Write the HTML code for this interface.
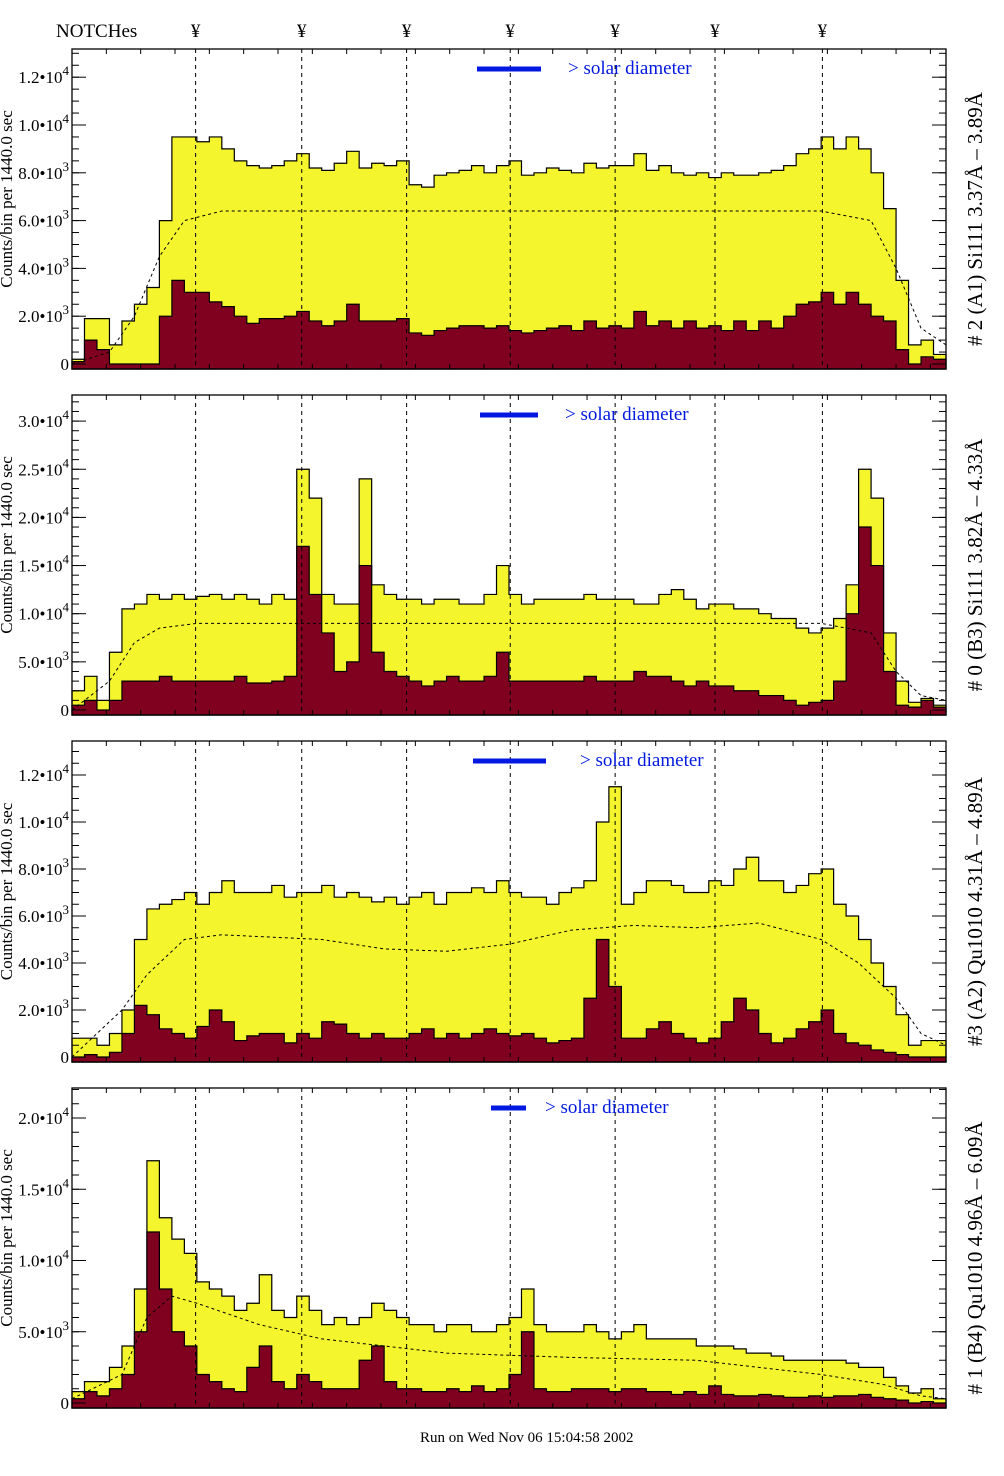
<!DOCTYPE html>
<html><head><meta charset="utf-8"><style>
html,body{margin:0;padding:0;background:#fff;}
svg{display:block;font-family:"Liberation Serif",serif;}
</style></head><body>
<svg id="chart" width="1004" height="1476" viewBox="0 0 1004 1476" xmlns="http://www.w3.org/2000/svg">
<text x="56" y="37" font-size="19">NOTCHes</text>
<g id="notchLabels"></g>
<g id="panels"></g>
<text x="420" y="1442" font-size="15">Run on Wed Nov 06 15:04:58 2002</text>
</svg>
<script>
// ---- data (values in thousands of counts) ----
const notchBins = [9.9, 18.4, 26.8, 35.1, 43.5, 51.5, 60.1];
const p1Total = [0.2,1.9,1.9,0.8,1.8,2.5,3.2,6.0,9.5,9.5,9.3,9.5,9.0,8.5,8.3,8.2,8.3,8.5,8.8,8.2,8.1,8.4,8.9,8.2,8.4,8.3,8.5,7.5,7.4,7.9,8.0,8.1,8.3,8.0,8.3,8.5,7.9,8.0,8.2,8.1,8.0,8.4,8.2,8.3,8.3,8.8,8.1,8.3,8.0,7.9,8.0,7.8,8.0,7.9,7.9,8.0,8.1,8.3,8.8,9.0,9.5,9.0,9.5,9.0,8.0,6.5,3.5,0.8,1.0,0.4];
const p1Inner = [0.1,1.0,0.6,0,0,0,0,2.0,3.5,3.0,3.0,2.6,2.4,2.0,1.7,1.9,1.9,2.0,2.2,1.8,1.6,1.8,2.5,1.8,1.8,1.8,1.9,1.3,1.2,1.4,1.5,1.6,1.6,1.5,1.6,1.4,1.3,1.4,1.5,1.6,1.4,1.8,1.5,1.6,1.5,2.2,1.6,1.8,1.5,1.8,1.5,1.6,1.4,1.8,1.4,1.8,1.5,2.0,2.5,2.6,3.0,2.5,3.0,2.5,2.0,1.8,0.6,0,0.3,0.2];
const p2Total = [2.0,3.5,1.0,6.0,10.5,11.0,12.0,11.5,12.0,11.5,11.8,12.0,11.5,12.0,11.5,11.0,12.0,11.5,25,22,12,11,11,24,13,12,11.5,11.5,11,11.5,11.5,11,11,12,15,12,11,11.5,11.5,11.5,11.5,12,11.5,11.5,11.5,11,11,12,12.5,11.5,10.5,11,11,10.5,10.5,10,9.5,9.5,8.5,8.0,8.5,9.5,13,25,22,8,3,0.8,1.2,0.5];
const p2Inner = [0.5,1.0,0,1.0,3.0,3.0,3.0,3.5,3.0,3.0,3.0,3.0,3.0,3.5,2.8,2.8,3.0,3.5,17,12,8,4,5,15,6,4,3.5,3.0,2.5,3.0,3.5,3.0,3.0,3.5,6,3.0,3.0,3.0,3.0,3.0,3.0,3.5,3.0,3.0,3.0,4.0,3.5,3.5,3.0,2.5,3.0,2.5,2.5,2.0,2.0,1.5,1.5,1.0,0.5,0.8,1.0,3.0,10,19,15,4,0.5,0.3,1.0,0.3];
const p3Total = [0.8,0.8,0.5,1.0,2.0,5.0,6.3,6.5,6.7,7.0,6.5,7.0,7.5,7.0,7.0,7.0,7.3,6.8,7.0,7.0,7.3,6.8,7.0,6.8,6.6,6.8,6.5,6.8,7.0,6.5,7.0,7.0,7.2,7.0,7.5,7.0,6.8,6.8,6.5,7.0,7.2,7.5,10.0,11.5,6.5,7.0,7.5,7.5,7.3,7.0,7.0,7.5,7.3,8.0,8.5,7.5,7.5,7.0,7.3,7.8,8.0,6.5,6.0,5.0,4.0,3.0,1.8,0.5,0.7,0.7];
const p3Inner = [0,0.1,0,0.2,1.0,2.2,1.8,1.2,1.0,0.8,1.3,2.0,1.5,0.7,0.9,1.0,1.0,0.6,1.0,0.8,1.5,1.4,1.0,0.8,1.0,0.8,0.8,1.0,1.2,0.8,1.0,0.8,1.0,1.2,1.0,0.9,1.0,0.8,0.6,0.7,0.8,2.5,5.0,3.0,0.8,0.8,1.2,1.5,1.0,0.8,0.6,0.8,1.5,2.5,2.0,1.0,0.6,0.8,1.2,1.5,2.0,1.0,0.6,0.5,0.3,0.2,0.1,0,0,0];
const p4Total = [0.8,1.5,1.5,2.5,4.0,8.0,17,13,11.5,10.5,8.5,8.0,7.5,6.5,7.0,9.0,6.5,6.0,7.5,6.5,5.5,6.0,5.5,6.0,7.0,6.5,6.0,5.5,5.5,5.0,5.5,5.5,5.0,5.0,5.5,6.0,8.0,5.5,5.0,5.0,5.0,5.5,5.0,4.5,5.0,5.5,4.5,4.5,4.5,4.5,4.0,4.0,4.0,3.8,3.5,3.5,3.3,3.0,3.0,3.0,3.0,3.0,2.8,2.5,2.5,1.8,1.2,0.7,1.0,0.3];
const p4Inner = [0.3,0.8,0.5,1.0,2.0,5.0,12,8,5,4,2.0,1.5,1.0,0.8,2.5,4,1.5,1.0,2.0,1.5,1.0,1.0,1.0,3.0,4.0,1.5,1.0,1.0,0.8,0.8,1.0,0.8,1.2,0.8,1.0,2.0,5.0,1.0,0.8,0.8,1.0,1.0,1.0,0.8,1.0,1.0,0.8,0.8,0.6,0.8,0.6,1.2,0.6,0.5,0.5,0.6,0.5,0.4,0.4,0.5,0.4,0.5,0.5,0.6,0.4,0.3,0.2,0,0.1,0];
const p1ModelX = [0,3,5,7,9,12,60,64,66,68,70];
const p1ModelY = [0,0.5,2,4.5,6.0,6.4,6.4,6.0,4,1.5,0.8];
const p2ModelX = [0,3,5,7,10,60,64,66,68,70];
const p2ModelY = [0,3,7,8.5,9,9,8,4,1.5,1];
const p3ModelX = [0,4,6,9,12,20,25,30,35,40,45,50,55,60,63,66,68,70];
const p3ModelY = [0,2,3.5,5.0,5.2,5.0,4.6,4.5,4.8,5.4,5.6,5.5,5.7,5.0,4.0,2.5,1.0,0.5];
const p4ModelX = [0,4,6,8,10,15,20,30,40,50,60,65,68,70];
const p4ModelY = [0.3,2,6,7.5,7.0,5.5,4.5,3.5,3.2,3.0,2.0,1.3,0.5,0.3];
const p1Ticks = [0,2,4,6,8,10,12];
const p2Ticks = [0,5,10,15,20,25,30];
const p3Ticks = [0,2,4,6,8,10,12];
const p4Ticks = [0,5,10,15,20];
const panelTitles = ["# 2 (A1) Si111  3.37Å – 3.89Å","# 0 (B3) Si111  3.82Å – 4.33Å","#3 (A2) Qu1010  4.31Å – 4.89Å","# 1 (B4) Qu1010 4.96Å – 6.09Å"];

const NS="http://www.w3.org/2000/svg";
const svg=document.getElementById('chart');
const X0=72,X1=946,NB=70;
function xs(b){return X0+(X1-X0)*b/NB;}
function mk(tag,attrs,parent){const e=document.createElementNS(NS,tag);for(const k in attrs)e.setAttribute(k,attrs[k]);parent.appendChild(e);return e;}

const panels=[
 {top:49,bot:369,zeroY:364,ppk:23.9,tot:p1Total,inn:p1Inner,mx:p1ModelX,my:p1ModelY,ticks:p1Ticks,exp:[3,3,3,3,3,4,4],lab:[null,"2.0","4.0","6.0","8.0","1.0","1.2"],minor:0.5,leg:[477,541,568]},
 {top:395,bot:715,zeroY:710,ppk:9.63,tot:p2Total,inn:p2Inner,mx:p2ModelX,my:p2ModelY,ticks:p2Ticks,exp:[3,3,4,4,4,4,4],lab:[null,"5.0","1.0","1.5","2.0","2.5","3.0"],minor:1,leg:[480,538,565]},
 {top:741,bot:1062,zeroY:1057,ppk:23.5,tot:p3Total,inn:p3Inner,mx:p3ModelX,my:p3ModelY,ticks:p3Ticks,exp:[3,3,3,3,3,4,4],lab:[null,"2.0","4.0","6.0","8.0","1.0","1.2"],minor:0.5,leg:[473,546,580]},
 {top:1088,bot:1408,zeroY:1403,ppk:14.25,tot:p4Total,inn:p4Inner,mx:p4ModelX,my:p4ModelY,ticks:p4Ticks,exp:[3,3,4,4,4],lab:[null,"5.0","1.0","1.5","2.0"],minor:1,leg:[491,526,545]}
];

const nl=document.getElementById('notchLabels');
notchBins.forEach(b=>{
  const t=mk('text',{x:xs(b),y:37,'font-size':19,'text-anchor':'middle'},nl);
  
  
  t.textContent='¥';
});

const root=document.getElementById('panels');
panels.forEach((p,pi)=>{
  const g=mk('g',{},root);
  
  
  const ys=v=>Math.min(p.bot,p.zeroY-v*p.ppk);
  function hist(arr,fill,name){
    let d='M'+X0+','+p.bot;
    arr.forEach((v,i)=>{d+=' L'+xs(i)+','+ys(v)+' L'+xs(i+1)+','+ys(v);});
    d+=' L'+X1+','+p.bot+' Z';
    const e=mk('path',{d:d,fill:fill,stroke:'#000','stroke-width':1.2},g);
    
    
  }
  hist(p.tot,'#f5f52e','total-counts-histogram');
  hist(p.inn,'#800020','inner-counts-histogram');
  let pts=p.mx.map((b,i)=>xs(b)+','+ys(p.my[i])).join(' ');
  const m=mk('polyline',{points:pts,fill:'none',stroke:'#000','stroke-width':1,'stroke-dasharray':'3,3'},g);
  
  
  notchBins.forEach(b=>{
    const l=mk('line',{x1:xs(b),x2:xs(b),y1:p.top,y2:p.bot,stroke:'#000','stroke-width':1,'stroke-dasharray':'4,4'},g);
    
    
  });
  const f=mk('rect',{x:X0,y:p.top,width:X1-X0,height:p.bot-p.top,fill:'none',stroke:'#000','stroke-width':1.3},g);
  
  
  const maxV=(p.zeroY-p.top)/p.ppk;
  for(let v=0;v<=maxV;v+=p.minor){
    const y=ys(v);
    mk('line',{x1:X0,x2:X0+7,y1:y,y2:y,stroke:'#000'},g);
    mk('line',{x1:X1,x2:X1-7,y1:y,y2:y,stroke:'#000'},g);
  }
  for(let b=0;b<=NB;b+=2.75){
    const x=xs(b);
    mk('line',{x1:x,x2:x,y1:p.top,y2:p.top+5,stroke:'#000'},g);
    mk('line',{x1:x,x2:x,y1:p.bot,y2:p.bot-5,stroke:'#000'},g);
  }
  p.ticks.forEach((v,i)=>{
    const y=ys(v);
    mk('line',{x1:X0,x2:X0+14,y1:y,y2:y,stroke:'#000'},g);
    mk('line',{x1:X1,x2:X1-14,y1:y,y2:y,stroke:'#000'},g);
    const t=mk('text',{x:69,y:y+6,'font-size':17,'text-anchor':'end'},g);
    
    
    if(p.lab[i]===null){t.textContent='0';}
    else{
      t.textContent=p.lab[i]+'•10';
      const s=mk('tspan',{dy:-8,'font-size':13},t);s.textContent=p.exp[i];
    }
  });
  const cy=(p.top+p.bot)/2;
  const yt=mk('text',{x:0,y:0,'font-size':17,'text-anchor':'middle',transform:'translate(12,'+(cy-10)+') rotate(-90)'},g);
  
  
  yt.textContent='Counts/bin per   1440.0 sec';
  const rt=mk('text',{x:0,y:0,'font-size':21,'text-anchor':'middle',transform:'translate(982,'+(cy+10)+') rotate(-90)'},g);
  
  
  rt.textContent=panelTitles[pi];
  const ly=p.top+20;
  const lb=mk('line',{x1:p.leg[0],x2:p.leg[1],y1:ly,y2:ly,stroke:'#0018e0','stroke-width':5},g);
  
  
  const lt=mk('text',{x:p.leg[2],y:ly+5,'font-size':19,fill:'#0018e0'},g);
  
  
  lt.textContent='> solar diameter';
});
</script>
</body></html>
